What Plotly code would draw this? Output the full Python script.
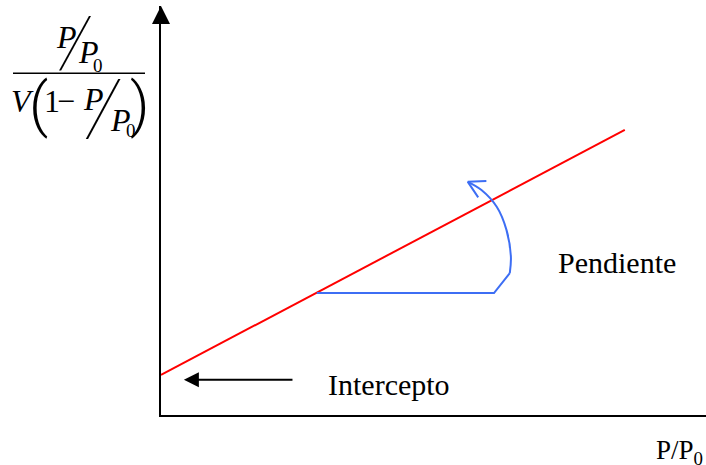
import plotly.graph_objects as go

# Canvas and plotting-area geometry (pixels)
W, H = 706, 465
ML, MR, MT, MB = 161, 0, 6, 50
PW, PH = W - ML - MR, H - MT - MB

SERIF = "Liberation Serif, Times New Roman, serif"
THIN = "Roboto, Liberation Sans, sans-serif"
RED = "#ff0000"
BLUE = "#3d6ef4"

# Linearised BET plot: straight line in relative-pressure units
line_x = [0.0, 0.851]
line_y = [0.098, 0.697]

# Slope indicator (horizontal leg, bend and curved arrow)
slope_x = [0.286, 0.611, 0.640]
slope_y = [0.298, 0.298, 0.347]
arc_x = [0.640, 0.642, 0.634, 0.616, 0.588, 0.563]
arc_y = [0.347, 0.387, 0.452, 0.509, 0.550, 0.570]
head_x = [0.597, 0.563, 0.582]
head_y = [0.572, 0.570, 0.532]

# Intercept pointer (tail -> tip)
intercept_x = [0.244, 0.042]
intercept_y = [0.086, 0.086]

# Axis arrow tips
x_end, y_end = 1.015, 1.0


def pp(x, y):
    """Canvas pixel -> paper coordinates."""
    return (x - ML) / PW, (H - MB - y) / PH


fig = go.Figure()

fig.add_trace(go.Scatter(x=line_x, y=line_y, mode="lines",
                         line=dict(color=RED, width=2), hoverinfo="skip"))
fig.add_trace(go.Scatter(x=slope_x, y=slope_y, mode="lines",
                         line=dict(color=BLUE, width=2), hoverinfo="skip"))
fig.add_trace(go.Scatter(x=arc_x, y=arc_y, mode="lines",
                         line=dict(color=BLUE, width=2, shape="spline", smoothing=1),
                         hoverinfo="skip"))
fig.add_trace(go.Scatter(x=head_x, y=head_y, mode="lines",
                         line=dict(color=BLUE, width=2), hoverinfo="skip"))

# Arrowheads at the ends of both axes
fig.add_trace(go.Scatter(x=[0], y=[y_end], mode="markers", cliponaxis=False,
                         marker=dict(symbol="arrow-up", size=18, color="black",
                                     line=dict(width=0)), hoverinfo="skip"))
fig.add_trace(go.Scatter(x=[x_end], y=[0], mode="markers", cliponaxis=False,
                         marker=dict(symbol="arrow-right", size=18, color="black",
                                     line=dict(width=0)), hoverinfo="skip"))

annotations = [
    dict(x=intercept_x[1], y=intercept_y[1], ax=intercept_x[0], ay=intercept_y[0],
         xref="x", yref="y", axref="x", ayref="y", text="", showarrow=True,
         arrowhead=2, arrowsize=1.5, arrowwidth=2, arrowcolor="black"),
]


def label(text, x, y, size, family=SERIF, weight="normal"):
    px, py = pp(x, y)
    annotations.append(dict(
        x=px, y=py, xref="paper", yref="paper", text=text, showarrow=False,
        xanchor="center", yanchor="middle",
        font=dict(family=family, size=size, color="black", weight=weight)))


label("Intercepto", 389, 384, 30)
label("Pendiente", 617, 262, 30)
label("P/P<sub>0</sub>", 679, 452, 27)

# y-axis title: (P/P0) / (V (1 - P/P0))
label("<i>P</i>", 66, 37, 32)
label("<i>/</i>", 75, 42, 71, THIN, 100)
label("<i>P</i>", 88, 52, 32)
label("0", 98, 65, 19)
label("<i>V</i>", 22, 101, 32)
label("(", 38, 104, 60, THIN, 300)
label("1", 52, 101, 32)
label("\u2212", 66, 101, 32)
label("<i>P</i>", 93, 99, 32)
label("<i>/</i>", 103, 108, 77, THIN, 100)
label("<i>P</i>", 120, 120, 32)
label("0", 131, 130, 19)
label(")", 140, 104, 60, THIN, 300)

bx0, by = pp(13, 73.3)
bx1, _ = pp(145, 73.3)

axis_style = dict(range=[0, 1], showline=True, linewidth=2, linecolor="black",
                  showgrid=False, zeroline=False, showticklabels=False, ticks="",
                  fixedrange=True)

fig.update_layout(
    width=W, height=H,
    margin=dict(l=ML, r=MR, t=MT, b=MB),
    paper_bgcolor="white", plot_bgcolor="white",
    showlegend=False,
    xaxis=axis_style, yaxis=axis_style,
    annotations=annotations,
    shapes=[dict(type="line", xref="paper", yref="paper",
                 x0=bx0, x1=bx1, y0=by, y1=by,
                 line=dict(color="black", width=1.5))],
)

fig.write_html("out.html")
